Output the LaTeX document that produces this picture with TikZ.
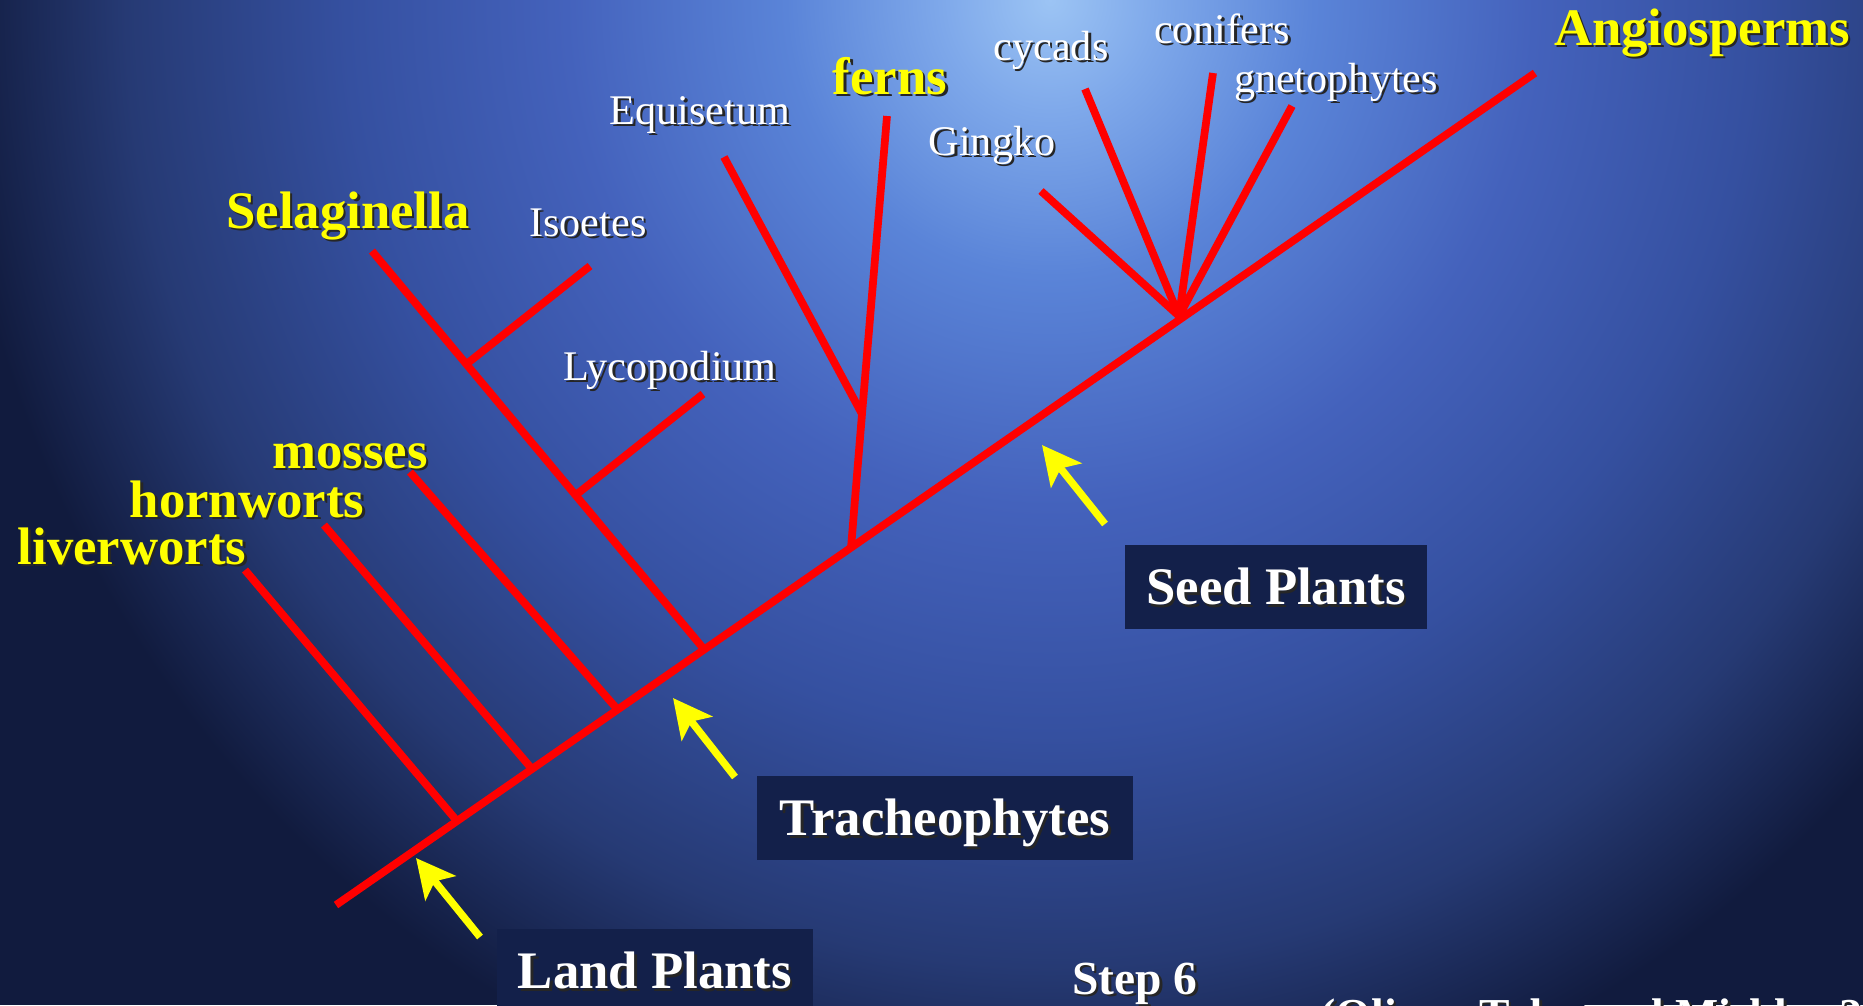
\documentclass[tikz,border=0pt]{standalone}
\usepackage{fontspec}
\setmainfont{Liberation Serif}
\usetikzlibrary{positioning,calc,arrows.meta}
\definecolor{branch}{HTML}{FF0000}
\definecolor{clade}{HTML}{FFFF00}
\definecolor{panel}{HTML}{13204A}
\definecolor{skyA}{HTML}{9CC4F4}
\definecolor{skyB}{HTML}{7EA8EA}
\definecolor{skyC}{HTML}{5A84D8}
\definecolor{skyD}{HTML}{4462BC}
\definecolor{skyE}{HTML}{3550A0}
\definecolor{skyF}{HTML}{263A74}
\definecolor{skyG}{HTML}{111B3E}
\pgfdeclareradialshading{sky}{\pgfpoint{0bp}{0bp}}{color(0bp)=(skyA); color(2.5bp)=(skyB); color(6bp)=(skyC); color(11bp)=(skyD); color(16bp)=(skyE); color(21bp)=(skyF); color(25bp)=(skyG); color(50bp)=(skyG)}
\newcommand{\shd}[1]{\rlap{\hspace{0.7pt}\raisebox{-0.7pt}{\color{black!85}#1}}#1}

\begin{document}
\begin{tikzpicture}[x=0.01cm, y=-0.01cm,
    limb/.style={draw=branch, line width=2.2pt},
    pointer/.style={draw=clade, line width=2.1pt, -{Stealth[length=11pt, width=11pt, inset=2.5pt]}},
    major/.style={text=clade, font=\fontsize{15}{18}\selectfont\bfseries, inner sep=0pt, anchor=base},
    minor/.style={text=white, font=\fontsize{12}{14}\selectfont, inner sep=0pt, anchor=base},
    panelbox/.style={fill=panel, text=white, font=\fontsize{15}{18}\selectfont\bfseries, inner sep=0pt, text height=10.2pt, text depth=0pt}]

  % background
  \useasboundingbox (0,0) rectangle (1863,1005);
  \clip (0,0) rectangle (1863,1005);
  \fill[skyG] (0,0) rectangle (1863,1005);
  \shade[shading=sky] (1050,0) ellipse [x radius=1100, y radius=1150];

  % trunk and junctions
  \coordinate (root) at (336,905);
  \coordinate (apex) at (1535,73);
  \coordinate (jLiv) at (457,821);
  \coordinate (jHorn) at (532,769);
  \coordinate (jMoss) at (618,710);
  \coordinate (jLyco) at (703,648);
  \coordinate (jFern) at (851,548);
  \coordinate (jSeed) at (1179,316);

  % free tips
  \coordinate (tLiv) at (245,570);
  \coordinate (tHorn) at (324,525);
  \coordinate (tMoss) at (410,472);
  \coordinate (tSel) at (372,251);
  \coordinate (tIso) at (590,266);
  \coordinate (tLycop) at (703,394);
  \coordinate (nFern) at (862,414);
  \coordinate (tFern) at (887,116);
  \coordinate (tEqui) at (724,157);
  \coordinate (tGing) at (1041,191);
  \coordinate (tCyc) at (1085,89);
  \coordinate (tCon) at (1213,73);
  \coordinate (tGne) at (1292,106);
  \coordinate (jIso) at ($(jLyco)!0.715!(tSel)$);
  \coordinate (jLycop) at ($(jLyco)!0.385!(tSel)$);

  % tree
  \draw[limb] (root) -- (apex);
  \draw[limb] (jLiv) -- (tLiv);
  \draw[limb] (jHorn) -- (tHorn);
  \draw[limb] (jMoss) -- (tMoss);
  \draw[limb] (jLyco) -- (tSel);
  \draw[limb] (jIso) -- (tIso);
  \draw[limb] (jLycop) -- (tLycop);
  \draw[limb] (jFern) -- (nFern) -- (tFern);
  \draw[limb] (nFern) -- (tEqui);
  \draw[limb] (jSeed) -- (tGing);
  \draw[limb] (jSeed) -- (tCyc);
  \draw[limb] (jSeed) -- (tCon);
  \draw[limb] (jSeed) -- (tGne);

  % group boxes
  \node[panelbox, minimum width=3.15cm, minimum height=0.84cm] (land) at (655,971) {\shd{Land Plants}};
  \node[panelbox, minimum width=3.76cm, minimum height=0.83cm] (trach) at (945,818) {\shd{Tracheophytes}};
  \node[panelbox, minimum width=3.02cm, minimum height=0.84cm] (seed) at (1276,587) {\shd{Seed Plants}};

  % arrows
  \coordinate (aLand) at (480,937);
  \coordinate (pLand) at (416,858);
  \coordinate (aTrach) at (735,777);
  \coordinate (pTrach) at (673,698);
  \coordinate (aSeed) at (1105,524);
  \coordinate (pSeed) at (1042,445);
  \draw[pointer] (aLand) -- (pLand);
  \draw[pointer] (aTrach) -- (pTrach);
  \draw[pointer] (aSeed) -- (pSeed);

  % taxa
  \node[major] (liv) at (132,564) {\shd{liverworts}};
  \node[major] (horn) at (247,517) {\shd{hornworts}};
  \node[major] (moss) at (350,468) {\shd{mosses}};
  \node[major] (sel) at (348,228) {\shd{Selaginella}};
  \node[minor] (iso) at (588,236) {\shd{Isoetes}};
  \node[minor] (lycop) at (670,380) {\shd{Lycopodium}};
  \node[minor] (equi) at (700,124) {\shd{Equisetum}};
  \node[major] (fern) at (890,94) {\shd{ferns}};
  \node[minor] (ging) at (992,155) {\shd{Gingko}};
  \node[minor] (cyc) at (1051,60) {\shd{cycads}};
  \node[minor] (con) at (1222,43) {\shd{conifers}};
  \node[minor] (gne) at (1336,92) {\shd{gnetophytes}};
  \node[major] (angio) at (1702,45) {\shd{Angiosperms}};

  % footer
  \node[inner sep=0pt, anchor=base, text=white, font=\fontsize{13.5}{16}\selectfont\bfseries] (stepno) at (1135,994) {\shd{Step 6}};
  \node[inner sep=0pt, anchor=base west, text=white, font=\fontsize{13}{16}\selectfont\bfseries] (cite) at (1320,1030) {\shd{(Oliver, Tuba and Mishler 2000)}};
\end{tikzpicture}
\end{document}
